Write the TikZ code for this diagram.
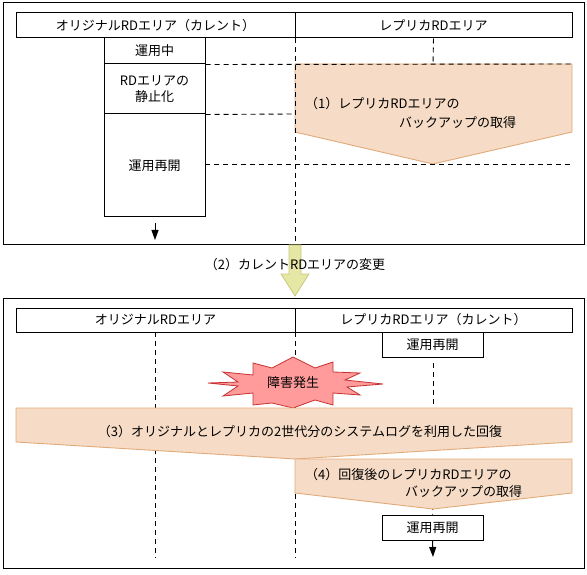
\documentclass[tikz,border=0pt]{standalone}
\usepackage{fontspec}
\setmainfont{Noto Sans CJK JP}
\usetikzlibrary{arrows.meta}
\definecolor{peachfill}{RGB}{246,220,198}
\definecolor{peachline}{RGB}{224,170,122}
\definecolor{yelfill}{RGB}{230,230,165}
\definecolor{yelline}{RGB}{200,200,130}
\definecolor{redfill}{RGB}{255,155,155}
\definecolor{redline}{RGB}{200,50,50}
\begin{document}
\begin{tikzpicture}[x=1pt,y=-1pt,
  font=\fontsize{13}{15.5}\selectfont,
  frame/.style={draw, line width=1pt},
  box/.style={draw, line width=1pt, inner sep=0pt, align=center},
  dline/.style={dash pattern=on 5pt off 4pt, line width=0.9pt},
  pent/.style={fill=peachfill, draw=peachline, line width=0.9pt},
  txt/.style={inner sep=0pt, anchor=west},
  flow/.style={line width=1pt, -{Triangle[width=7pt,length=10pt]}}]
\useasboundingbox (0,0) rectangle (587,575);

% ---------- top section ----------
\draw[frame] (3,3) rectangle (584,245);
\node[box, minimum width=279pt, minimum height=25pt] (hl1) at (155.5,25.5) {オリジナルRDエリア（カレント）};
\node[box, minimum width=277pt, minimum height=25pt] (hr1) at (433.5,25.5) {レプリカRDエリア};
\node[box, minimum width=101pt, minimum height=26pt] (s1) at (154.5,51) {運用中};
\node[box, minimum width=101pt, minimum height=50pt] (s2) at (154.5,89) {RDエリアの\\静止化};
\node[box, minimum width=101pt, minimum height=103pt] (s3) at (154.5,165.5) {運用再開};

\fill[pent] (295,64) -- (572,64) -- (572,132) -- (433,164) -- (295,132) -- cycle;
\node[txt] (t1a) at (305,104) {（1）レプリカRDエリアの};
\node[txt] (t1b) at (399,123) {バックアップの取得};

\coordinate (d1t) at (295,38);
\coordinate (d1b) at (295,245);
\coordinate (d2b) at (433,64);
\coordinate (h1e) at (572,64);
\coordinate (h2e) at (295,114);
\coordinate (h3e) at (572,164);
\draw[dline] (d1t) -- (d1b);
\draw[dline] (hr1.south) -- (d2b);
\draw[dline] (s1.south east) -- (h1e);
\draw[dline] (s2.south east) -- (h2e);
\draw[dline] (205,164) -- (h3e);

\coordinate (a1s) at (155,223);
\coordinate (a1e) at (155,240);
\draw[flow] (a1s) -- (a1e);

% ---------- middle arrow ----------
\filldraw[fill=yelfill, draw=yelline, line width=0.8pt]
  (289,245) -- (301,245) -- (301,274) -- (309,274) -- (295,296) -- (281,274) -- (289,274) -- cycle;
\node[inner sep=1pt] (chg) at (295,265) {（2）カレントRDエリアの変更};

% ---------- bottom section ----------
\draw[frame] (3,298) rectangle (584,568);
\node[box, minimum width=279pt, minimum height=24pt] (hl2) at (155.5,320) {オリジナルRDエリア};
\node[box, minimum width=277pt, minimum height=24pt] (hr2) at (433.5,320) {レプリカRDエリア（カレント）};
\node[box, minimum width=101pt, minimum height=25pt] (r1) at (432.5,344.5) {運用再開};
\node[box, minimum width=101pt, minimum height=25pt] (r2) at (432.5,527.5) {運用再開};

\coordinate (v1t) at (155,332);
\coordinate (v1b) at (155,558);
\coordinate (v2t) at (295,332);
\coordinate (v2b) at (295,558);
\coordinate (v3a) at (433,363);
\coordinate (v3b) at (433,409);
\coordinate (v4a) at (433,505);
\draw[dline] (v1t) -- (v1b);
\draw[dline] (v2t) -- (v2b);
\draw[dline] (v3a) -- (v3b);
\draw[dline] (v4a) -- (r2.north);

% explosion
\filldraw[fill=redfill, draw=redline, line width=0.8pt]
  (208,383) -- (238,382) -- (223,372) -- (253,375) -- (253,363) -- (272,368) -- (293,357)
  -- (315,368) -- (333,362) -- (333,372) -- (360,373) -- (345,380) -- (383,384)
  -- (347,387) -- (360,395) -- (333,393) -- (333,405) -- (315,400) -- (293,408)
  -- (272,403) -- (253,405) -- (253,393) -- (223,396) -- (238,386) -- cycle;
\node[inner sep=0pt] (fail) at (293,383) {障害発生};

\fill[pent] (16,408) -- (572,408) -- (572,442) -- (295,459) -- (16,442) -- cycle;
\node[inner sep=0pt] (t3) at (300,432) {（3）オリジナルとレプリカの2世代分のシステムログを利用した回復};

\fill[pent] (295,459) -- (572,459) -- (572,493) -- (433,509) -- (295,493) -- cycle;
\node[txt] (t4a) at (305,475) {（4）回復後のレプリカRDエリアの};
\node[txt] (t4b) at (405,492) {バックアップの取得};

\coordinate (a2e) at (433,557);
\draw[flow] (r2.south) -- (a2e);
\end{tikzpicture}
\end{document}
